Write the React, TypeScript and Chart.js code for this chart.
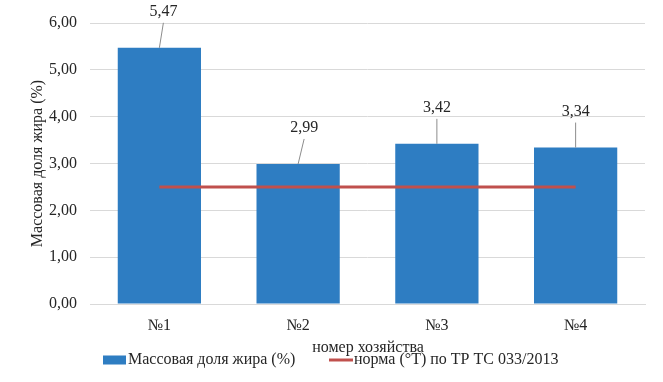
import React, { useEffect, useRef } from "react";
import { Chart, registerables } from "chart.js";

Chart.register(...registerables);

const categories = ["№1", "№2", "№3", "№4"];
const fatValues = [5.47, 2.99, 3.42, 3.34];
const normValues = [2.5, 2.5, 2.5, 2.5];
const fatLabel = "Массовая доля жира (%)";
const normLabel = "норма (°T) по ТР ТС 033/2013";
const xTitle = "номер хозяйства";
const yTitle = "Массовая доля жира (%)";

const FONT = "'Liberation Serif', 'Times New Roman', serif";
const FS = 16;
const BLUE = "#2E7DC2";
const RED = "#C0504D";
const TEXT = "#262626";
const fmt = (v: number) => v.toFixed(2).replace(".", ",");

const labelPlugin = {
  id: "barLabels",
  afterDatasetsDraw(chart: any) {
    const ctx = chart.ctx;
    const meta = chart.getDatasetMeta(0);
    const dxs = [4, 6, 0, 0];
    ctx.save();
    ctx.font = `${FS}px ${FONT}`;
    ctx.fillStyle = TEXT;
    ctx.textAlign = "center";
    ctx.textBaseline = "middle";
    meta.data.forEach((el: any, i: number) => {
      const dx = dxs[i] || 0;
      const ly = el.y - 36;
      ctx.fillText(fmt(fatValues[i]), el.x + dx, ly);
      ctx.strokeStyle = "#8c8c8c";
      ctx.lineWidth = 1;
      ctx.beginPath();
      ctx.moveTo(el.x + dx, ly + 11);
      ctx.lineTo(el.x, el.y);
      ctx.stroke();
    });
    ctx.restore();
  },
  afterDraw(chart: any) {
    const ctx = chart.ctx;
    const area = chart.chartArea;
    ctx.save();
    ctx.font = `${FS}px ${FONT}`;
    ctx.fillStyle = TEXT;
    ctx.textBaseline = "middle";
    ctx.textAlign = "center";
    ctx.fillText(xTitle, 368, area.bottom + 44);
    // legend
    const ly = area.bottom + 56;
    ctx.textAlign = "left";
    ctx.fillStyle = BLUE;
    ctx.fillRect(103, ly - 4.5, 23, 9);
    ctx.fillStyle = TEXT;
    ctx.fillText(fatLabel, 128, ly);
    ctx.strokeStyle = RED;
    ctx.lineWidth = 3;
    ctx.beginPath();
    ctx.moveTo(329, ly);
    ctx.lineTo(353, ly);
    ctx.stroke();
    ctx.fillText(normLabel, 354, ly);
    ctx.restore();
  },
};

export default function App() {
  const ref = useRef<HTMLCanvasElement>(null);
  useEffect(() => {
    document.body.style.margin = "0";
    const chart = new Chart(ref.current as HTMLCanvasElement, {
      type: "bar",
      data: {
        labels: categories,
        datasets: [
          {
            type: "bar",
            label: fatLabel,
            data: fatValues,
            backgroundColor: BLUE,
            categoryPercentage: 1,
            barPercentage: 0.6,
            order: 2,
          },
          {
            type: "line",
            label: normLabel,
            data: normValues,
            borderColor: RED,
            borderWidth: 3,
            pointRadius: 0,
            order: 1,
          } as any,
        ],
      },
      options: {
        responsive: false,
        animation: false,
        layout: { padding: { left: 0, top: 23, right: 18, bottom: 0 } },
        plugins: { legend: { display: false }, tooltip: { enabled: false } },
        scales: {
          x: {
            grid: { display: false, drawTicks: false },
            border: { display: true, color: "#D9D9D9" },
            ticks: { padding: 12, color: TEXT, font: { family: FONT, size: FS } },
            afterFit: (s: any) => { s.height = 78; },
          },
          y: {
            min: 0,
            max: 6,
            ticks: {
              stepSize: 1,
              padding: 13,
              color: TEXT,
              font: { family: FONT, size: FS },
              callback: (v: any) => fmt(Number(v)),
            },
            grid: { color: "#D9D9D9", drawTicks: false },
            border: { display: false },
            title: {
              display: true,
              text: yTitle,
              color: TEXT,
              font: { family: FONT, size: FS },
              padding: { top: 28, bottom: 0 },
            },
            afterFit: (s: any) => { s.width = 90; },
          },
        },
      },
      plugins: [labelPlugin],
    });
    return () => chart.destroy();
  }, []);
  return (
    <div style={{ width: 663, height: 382, background: "#fff" }}>
      <canvas ref={ref} width={663} height={382} />
    </div>
  );
}
